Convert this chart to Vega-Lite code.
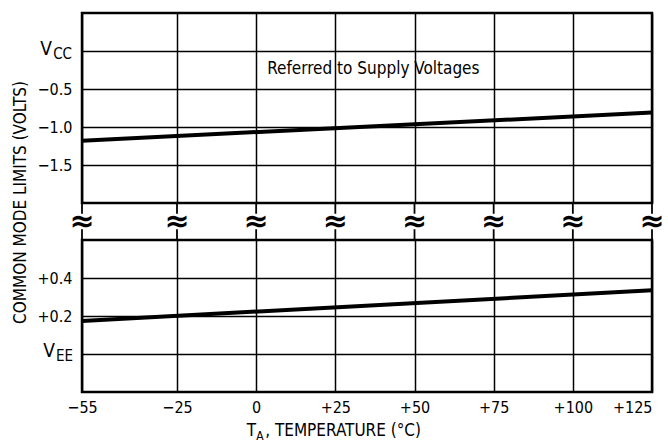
{
  "$schema": "https://vega.github.io/schema/vega-lite/v6.json",
  "padding": {"top": 11, "left": 9, "right": 5, "bottom": 0},
  "background": "white",
  "bounds": "flush",
  "spacing": 0,
  "config": {
    "font": "DejaVu Sans Condensed",
    "view": {"stroke": "#000", "strokeWidth": 2.5},
    "axis": {
      "grid": true, "gridColor": "#000", "gridOpacity": 1, "gridWidth": 1.5,
      "domain": false, "ticks": false,
      "labelFont": "DejaVu Sans Condensed",
      "labelFontSize": 16, "labelColor": "#000",
      "titleFont": "DejaVu Sans Condensed",
      "titleFontSize": 17, "titleFontWeight": "normal", "titleColor": "#000"
    },
    "text": {"color": "#000", "font": "DejaVu Sans Condensed"}
  },
  "vconcat": [
    {
      "width": 570, "height": 190,
      "layer": [
        {
          "data": {"values": [{"t": -55, "v": -1.18}, {"t": 125, "v": -0.81}]},
          "mark": {"type": "line", "color": "#000", "strokeWidth": 4},
          "encoding": {
            "x": {"field": "t", "type": "quantitative",
                  "scale": {"domain": [-55, 125], "nice": false, "zero": false},
                  "axis": {"values": [-55, -25, 0, 25, 50, 75, 100, 125], "labels": false, "title": null}},
            "y": {"field": "v", "type": "quantitative",
                  "scale": {"domain": [-2, 0.5], "nice": false, "zero": false},
                  "axis": {"values": [-1.5, -1, -0.5, 0], "labelPadding": 10,
                           "labelExpr": "datum.value == 0 ? '' : '−' + format(-datum.value, '.1f')",
                           "title": "COMMON MODE LIMITS (VOLTS)", "titleY": 189, "titlePadding": 8}}
          }
        },
        {
          "data": {"values": [{"t": 37, "v": -0.24, "label": "Referred to Supply Voltages"}]},
          "mark": {"type": "text", "fontSize": 17, "align": "center", "baseline": "middle"},
          "encoding": {
            "x": {"field": "t", "type": "quantitative"},
            "y": {"field": "v", "type": "quantitative"},
            "text": {"field": "label"}
          }
        },
        {
          "data": {"values": [{"t": -55, "v": 0, "label": "V"}]},
          "mark": {"type": "text", "fontSize": 19, "align": "right", "baseline": "alphabetic", "dx": -30, "dy": 4},
          "encoding": {
            "x": {"field": "t", "type": "quantitative"},
            "y": {"field": "v", "type": "quantitative"},
            "text": {"field": "label"}
          }
        },
        {
          "data": {"values": [{"t": -55, "v": 0, "label": "CC"}]},
          "mark": {"type": "text", "fontSize": 15, "align": "right", "baseline": "alphabetic", "dx": -10, "dy": 8},
          "encoding": {
            "x": {"field": "t", "type": "quantitative"},
            "y": {"field": "v", "type": "quantitative"},
            "text": {"field": "label"}
          }
        }
      ]
    },
    {
      "width": 570, "height": 37,
      "view": {"stroke": null},
      "data": {"values": [{"t": -55}, {"t": -25}, {"t": 0}, {"t": 25}, {"t": 50}, {"t": 75}, {"t": 100}, {"t": 125}]},
      "encoding": {
        "x": {"field": "t", "type": "quantitative",
              "scale": {"domain": [-55, 125], "nice": false, "zero": false},
              "axis": null}
      },
      "layer": [
        {
          "mark": {"type": "rule", "color": "#000", "strokeWidth": 1.8}
        },
        {
          "mark": {"type": "point", "shape": "square", "filled": true, "color": "white", "opacity": 1, "size": 240, "strokeWidth": 0}
        },
        {
          "mark": {"type": "text", "fontSize": 30, "fontWeight": "bold", "baseline": "middle", "align": "center", "font": "DejaVu Sans"},
          "encoding": {"text": {"value": "≈"}}
        }
      ]
    },
    {
      "width": 570, "height": 152,
      "layer": [
        {
          "data": {"values": [{"t": -55, "v": 0.174}, {"t": 125, "v": 0.335}]},
          "mark": {"type": "line", "color": "#000", "strokeWidth": 4},
          "encoding": {
            "x": {"field": "t", "type": "quantitative",
                  "scale": {"domain": [-55, 125], "nice": false, "zero": false},
                  "axis": {"values": [-55, -25, 0, 25, 50, 75, 100, 125], "labelPadding": 7, "title": null,
                           "labelFontSize": 16,
                           "labelExpr": "datum.value > 0 ? '+' + datum.value : (datum.value < 0 ? '−' + (-datum.value) : '0')",
                           "labelAlign": {"condition": {"test": "datum.value == 125", "value": "right"}, "value": "center"}}},
            "y": {"field": "v", "type": "quantitative",
                  "scale": {"domain": [-0.2, 0.6], "nice": false, "zero": false},
                  "axis": {"values": [0, 0.2, 0.4], "labelPadding": 10, "title": null,
                           "labelExpr": "datum.value == 0 ? '' : '+' + format(datum.value, '.1f')"}}
          }
        },
        {
          "data": {"values": [{"t": -55, "v": 0, "label": "V"}]},
          "mark": {"type": "text", "fontSize": 19, "align": "right", "baseline": "alphabetic", "dx": -27, "dy": 3},
          "encoding": {
            "x": {"field": "t", "type": "quantitative"},
            "y": {"field": "v", "type": "quantitative"},
            "text": {"field": "label"}
          }
        },
        {
          "data": {"values": [{"t": -55, "v": 0, "label": "EE"}]},
          "mark": {"type": "text", "fontSize": 15, "align": "right", "baseline": "alphabetic", "dx": -9, "dy": 7},
          "encoding": {
            "x": {"field": "t", "type": "quantitative"},
            "y": {"field": "v", "type": "quantitative"},
            "text": {"field": "label"}
          }
        },
        {
          "data": {"values": [{"t": 0, "v": -0.2, "label": "T"}]},
          "mark": {"type": "text", "fontSize": 17, "align": "right", "baseline": "alphabetic", "dx": 0, "dy": 44},
          "encoding": {
            "x": {"field": "t", "type": "quantitative"},
            "y": {"field": "v", "type": "quantitative"},
            "text": {"field": "label"}
          }
        },
        {
          "data": {"values": [{"t": 0, "v": -0.2, "label": "A"}]},
          "mark": {"type": "text", "fontSize": 12, "align": "left", "baseline": "alphabetic", "dx": 0, "dy": 48},
          "encoding": {
            "x": {"field": "t", "type": "quantitative"},
            "y": {"field": "v", "type": "quantitative"},
            "text": {"field": "label"}
          }
        },
        {
          "data": {"values": [{"t": 0, "v": -0.2, "label": ", TEMPERATURE (°C)"}]},
          "mark": {"type": "text", "fontSize": 17, "align": "left", "baseline": "alphabetic", "dx": 9, "dy": 44},
          "encoding": {
            "x": {"field": "t", "type": "quantitative"},
            "y": {"field": "v", "type": "quantitative"},
            "text": {"field": "label"}
          }
        }
      ]
    }
  ]
}
